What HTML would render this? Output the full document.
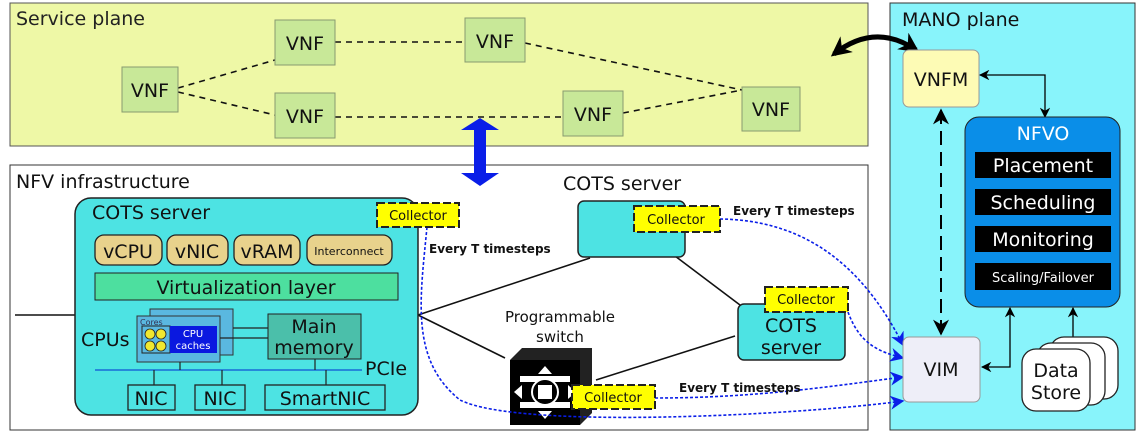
<!DOCTYPE html>
<html><head><meta charset="utf-8"><style>
html,body{margin:0;padding:0;background:#fff}
svg{display:block}
text{font-family:"DejaVu Sans","Liberation Sans",sans-serif}
</style></head><body>
<svg width="1139" height="435" viewBox="0 0 1139 435" xmlns="http://www.w3.org/2000/svg">
<defs>
<marker id="bk" viewBox="0 0 10 10" refX="9" refY="5" markerWidth="8" markerHeight="8" orient="auto-start-reverse"><path d="M0,0 L10,5 L0,10 L3,5z" fill="#000"/></marker>
<marker id="bb" viewBox="0 0 10 10" refX="9" refY="5" markerWidth="14" markerHeight="14" markerUnits="userSpaceOnUse" orient="auto"><path d="M0,0 L10,5 L0,10 L3,5z" fill="#0a1ee8"/></marker>
<marker id="big" viewBox="0 0 10 10" refX="8" refY="5" markerWidth="4" markerHeight="4" orient="auto-start-reverse"><path d="M0,0 L10,5 L0,10 L3,5z" fill="#000"/></marker>
</defs>
<rect x="10" y="3" width="858" height="143" fill="#eef8a6" stroke="#555" stroke-width="1"/>
<text x="16" y="25" font-size="19" fill="#222">Service plane</text>
<rect x="10" y="165" width="858" height="265" fill="#fff" stroke="#333" stroke-width="1"/>
<text x="16" y="188" font-size="19" fill="#111">NFV infrastructure</text>
<rect x="890" y="3" width="245" height="427" fill="#88f4fb" stroke="#333" stroke-width="1"/>
<text x="902" y="26" font-size="19" fill="#111">MANO plane</text>

<g stroke="#111" stroke-width="1.6" stroke-dasharray="6,5" fill="none">
<line x1="178" y1="88" x2="275" y2="60"/>
<line x1="178" y1="92" x2="275" y2="115"/>
<line x1="335" y1="42" x2="465" y2="42"/>
<line x1="335" y1="117" x2="563" y2="117"/>
<line x1="525" y1="43" x2="742" y2="90"/>
<line x1="623" y1="113" x2="742" y2="90"/>
</g>
<g fill="#c8e898" stroke="#889a70" stroke-width="1">
<rect x="122" y="67" width="56" height="45"/>
<rect x="275" y="20" width="60" height="45"/>
<rect x="465" y="18" width="60" height="44"/>
<rect x="275" y="93" width="60" height="45"/>
<rect x="563" y="91" width="60" height="45"/>
<rect x="742" y="87" width="58" height="44"/>
</g>
<g font-size="19" fill="#111" text-anchor="middle">
<text x="150" y="97">VNF</text><text x="305" y="50">VNF</text><text x="495" y="48">VNF</text>
<text x="305" y="123">VNF</text><text x="593" y="121">VNF</text><text x="771" y="116">VNF</text>
</g>

<path d="M480,118 L499,130 L486,130 L486,173 L499,173 L480,186 L461,173 L474,173 L474,130 L461,130 Z" fill="#0a1ee8"/>
<path d="M834,54 Q875,22 916,50" stroke="#000" stroke-width="5" fill="none" marker-start="url(#big)" marker-end="url(#big)"/>

<g stroke="#111" stroke-width="1.6">
<line x1="15" y1="315" x2="75" y2="315"/>
<line x1="418" y1="315" x2="590" y2="258"/>
<line x1="418" y1="315" x2="505" y2="358"/>
<line x1="675" y1="256" x2="740" y2="305"/>
<line x1="596" y1="380" x2="735" y2="336"/>
</g>

<rect x="75" y="198" width="343" height="217" rx="16" fill="#4de3e3" stroke="#222" stroke-width="1.5"/>
<text x="92" y="219" font-size="19" fill="#111">COTS server</text>
<g fill="#e8d28c" stroke="#222" stroke-width="1.3">
<rect x="95" y="235" width="67" height="30" rx="9"/>
<rect x="167" y="235" width="61" height="30" rx="9"/>
<rect x="234" y="235" width="66" height="30" rx="9"/>
<rect x="307" y="235" width="85" height="30" rx="9"/>
</g>
<g fill="#111" text-anchor="middle">
<text x="128" y="258" font-size="19">vCPU</text>
<text x="197" y="258" font-size="19">vNIC</text>
<text x="267" y="258" font-size="19">vRAM</text>
<text x="349" y="255" font-size="11">Interconnect</text>
</g>
<rect x="95" y="273" width="303" height="27" fill="#4ddf9f" stroke="#222" stroke-width="1"/>
<text x="246" y="294" font-size="19" fill="#111" text-anchor="middle">Virtualization layer</text>
<rect x="150" y="309" width="83" height="46" fill="#5ab8e0" stroke="#333"/>
<rect x="137" y="316" width="83" height="46" fill="#5ab8e0" stroke="#333"/>
<text x="140" y="325" font-size="8" fill="#335">Cores</text>
<rect x="142" y="326" width="28" height="27" fill="#5ab8e0" stroke="#222"/>
<g fill="#f0e830" stroke="#222" stroke-width="0.8">
<circle cx="150" cy="334" r="5"/><circle cx="161" cy="334" r="5"/><circle cx="150" cy="346" r="5"/><circle cx="161" cy="346" r="5"/>
</g>
<rect x="170" y="326" width="47" height="27" fill="#0a18e0"/>
<text x="193" y="337" font-size="10" fill="#fff" text-anchor="middle">CPU</text>
<text x="193" y="349" font-size="10" fill="#fff" text-anchor="middle">caches</text>
<text x="81" y="346" font-size="19" fill="#111">CPUs</text>
<line x1="233" y1="328" x2="268" y2="328" stroke="#222" stroke-width="1.2"/>
<line x1="220" y1="338" x2="268" y2="338" stroke="#222" stroke-width="1.2"/>
<rect x="268" y="314" width="93" height="45" fill="#4bbfaa" stroke="#222"/>
<text x="314" y="333" font-size="19" fill="#111" text-anchor="middle">Main</text>
<text x="314" y="354" font-size="19" fill="#111" text-anchor="middle">memory</text>
<line x1="95" y1="370" x2="362" y2="370" stroke="#1a6ad8" stroke-width="1.5"/>
<g stroke="#222" stroke-width="1.2">
<line x1="180" y1="362" x2="180" y2="370"/><line x1="315" y1="359" x2="315" y2="370"/>
<line x1="154" y1="370" x2="154" y2="385"/><line x1="222" y1="370" x2="222" y2="385"/><line x1="326" y1="370" x2="326" y2="385"/>
</g>
<text x="365" y="375" font-size="19" fill="#111">PCIe</text>
<g fill="none" stroke="#222" stroke-width="1.3">
<rect x="128" y="385" width="47" height="25"/><rect x="195" y="385" width="50" height="25"/><rect x="265" y="385" width="120" height="25"/>
</g>
<g font-size="19" fill="#111" text-anchor="middle">
<text x="151" y="405">NIC</text><text x="220" y="405">NIC</text><text x="325" y="405">SmartNIC</text>
</g>

<text x="563" y="190" font-size="19" fill="#111">COTS server</text>
<rect x="578" y="201" width="107" height="56" rx="6" fill="#4de3e3" stroke="#222" stroke-width="1.5"/>
<rect x="738" y="304" width="107" height="56" rx="6" fill="#4de3e3" stroke="#222" stroke-width="1.5"/>
<text x="791" y="332" font-size="19" fill="#111" text-anchor="middle">COTS</text>
<text x="791" y="354" font-size="19" fill="#111" text-anchor="middle">server</text>

<text x="560" y="322" font-size="15" fill="#111" text-anchor="middle">Programmable</text>
<text x="560" y="342" font-size="15" fill="#111" text-anchor="middle">switch</text>
<path d="M510,360 L522,348 L592,348 L592,413 L580,425 Z" fill="#222"/>
<rect x="510" y="360" width="70" height="65" fill="#000"/>
<g fill="#fff">
<polygon points="545,366 552,374 538,374"/><polygon points="545,419 552,411 538,411"/>
<polygon points="514,392 522,385 522,399"/><polygon points="576,392 568,385 568,399"/>
<rect x="520" y="376" width="50" height="6"/><rect x="520" y="402" width="50" height="6"/>
</g>
<circle cx="545" cy="392" r="13" fill="#000" stroke="#fff" stroke-width="2"/>
<rect x="538" y="385" width="14" height="14" fill="#fff"/>

<g stroke="#0a1ee8" stroke-width="1.6" stroke-dasharray="3,2" fill="none" marker-end="url(#bb)">
<path d="M720,219 C800,220 860,260 903,345"/>
<path d="M848,312 C860,345 880,352 903,358"/>
<path d="M655,398 C760,398 840,385 903,377"/>
<path d="M427,227 C420,300 410,360 460,400 C520,430 800,415 903,401"/>
</g>

<g fill="#ffff00" stroke="#222" stroke-width="2" stroke-dasharray="8,3">
<rect x="377" y="203" width="82" height="24"/>
<rect x="634" y="206" width="86" height="26"/>
<rect x="765" y="287" width="83" height="25"/>
<rect x="572" y="385" width="83" height="24"/>
</g>
<g font-size="13" fill="#111" text-anchor="middle">
<text x="418" y="220">Collector</text><text x="676" y="224">Collector</text>
<text x="806" y="304">Collector</text><text x="613" y="402">Collector</text>
</g>
<g font-size="12" font-weight="bold" fill="#111">
<text x="429" y="253">Every T timesteps</text>
<text x="733" y="215">Every T timesteps</text>
<text x="679" y="392">Every T timesteps</text>
</g>

<rect x="903" y="50" width="76" height="57" rx="6" fill="#fdfbb5" stroke="#999"/>
<text x="941" y="86" font-size="19" fill="#111" text-anchor="middle">VNFM</text>
<path d="M980,75 L1045,75 L1045,117" stroke="#000" stroke-width="1.3" fill="none" marker-start="url(#bk)" marker-end="url(#bk)"/>
<rect x="965" y="117" width="155" height="190" rx="14" fill="#0a8ee8" stroke="#222"/>
<text x="1043" y="140" font-size="19" fill="#fff" text-anchor="middle">NFVO</text>
<g fill="#000"><rect x="975" y="152" width="136" height="26"/><rect x="975" y="189" width="136" height="26"/><rect x="975" y="226" width="136" height="26"/><rect x="975" y="263" width="136" height="27"/></g>
<g fill="#fff" text-anchor="middle"><text x="1043" y="172" font-size="19">Placement</text><text x="1043" y="209" font-size="19">Scheduling</text><text x="1043" y="246" font-size="19">Monitoring</text><text x="1043" y="282" font-size="13">Scaling/Failover</text></g>
<line x1="941" y1="110" x2="941" y2="334" stroke="#000" stroke-width="2" stroke-dasharray="14,7" marker-start="url(#bk)" marker-end="url(#bk)"/>
<rect x="903" y="337" width="77" height="65" rx="6" fill="#eeeef8" stroke="#999"/>
<text x="941" y="376" font-size="19" fill="#111" text-anchor="middle">VIM</text>
<path d="M982,367 L1010,367 L1010,308" stroke="#000" stroke-width="1.3" fill="none" marker-start="url(#bk)" marker-end="url(#bk)"/>
<line x1="1073" y1="308" x2="1073" y2="348" stroke="#000" stroke-width="1.3" marker-start="url(#bk)" marker-end="url(#bk)"/>
<g fill="#fff" stroke="#222" stroke-width="1.3">
<rect x="1050" y="337" width="68" height="62" rx="14"/>
<rect x="1037" y="343" width="68" height="62" rx="14"/>
<rect x="1022" y="349" width="68" height="62" rx="14"/>
</g>
<text x="1056" y="377" font-size="19" fill="#111" text-anchor="middle">Data</text>
<text x="1056" y="399" font-size="19" fill="#111" text-anchor="middle">Store</text>
</svg>
</body></html>
